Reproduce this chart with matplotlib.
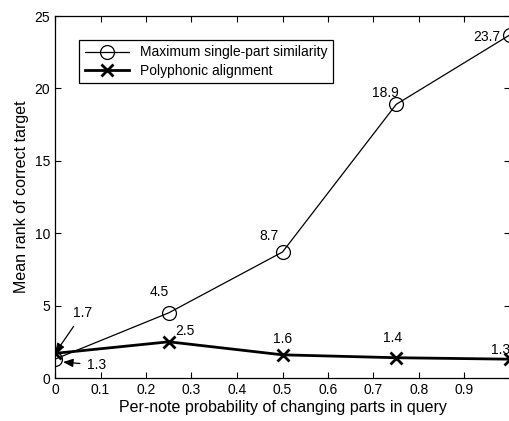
import matplotlib
matplotlib.use('Agg')
import matplotlib.pyplot as plt

plt.rcParams['font.family'] = ['Liberation Sans', 'DejaVu Sans']

prob = [0, 0.25, 0.5, 0.75, 1.0]
max_single = [1.3, 4.5, 8.7, 18.9, 23.7]
polyphonic = [1.7, 2.5, 1.6, 1.4, 1.3]
xticks = [0, 0.1, 0.2, 0.3, 0.4, 0.5, 0.6, 0.7, 0.8, 0.9]
yticks = [0, 5, 10, 15, 20, 25]

fig = plt.figure(figsize=(5.1, 4.21), dpi=100)
ax = fig.add_axes([55 / 510, 43 / 421, 455 / 510, 362 / 421])

ax.plot(prob, max_single, color='black', lw=0.9, marker='o', markersize=10,
        markerfacecolor='none', markeredgewidth=0.9, label='Maximum single-part similarity')
ax.plot(prob, polyphonic, color='black', lw=2, marker='x', markersize=8,
        markeredgewidth=2, label='Polyphonic alignment')

ax.set_xlim(0, 1)
ax.set_ylim(0, 25)
ax.set_xticks(xticks)
ax.set_xticklabels([('%g' % t) for t in xticks])
ax.set_yticks(yticks)
ax.tick_params(direction='in', top=True, right=True, labelsize=10, length=4, width=0.8)
for s in ax.spines.values():
    s.set_linewidth(0.9)

ax.set_xlabel('Per-note probability of changing parts in query', fontsize=11.5, labelpad=2)
ax.set_ylabel('Mean rank of correct target', fontsize=11.5, labelpad=4)

# value labels (offsets in points from each data point)
labels = [
    ('4.5', 0.25, 4.5, -7, 15),
    ('8.7', 0.5, 8.7, -9.5, 11.5),
    ('18.9', 0.75, 18.9, -8, 8),
    ('23.7', 1.0, 23.7, -16.5, -1.5),
    ('2.5', 0.25, 2.5, 12, 8),
    ('1.6', 0.5, 1.6, 0, 11.5),
    ('1.4', 0.75, 1.4, -3, 14),
    ('1.3', 1.0, 1.3, -7, 6.5),
]
for txt, x, y, dx, dy in labels:
    ax.annotate(txt, (x, y), xytext=(dx, dy), textcoords='offset points',
                ha='center', va='center', fontsize=10)

arrow = dict(arrowstyle='-|>,head_length=0.6,head_width=0.25', color='black', lw=0.9,
             shrinkA=3, shrinkB=0)
ax.annotate('1.7', (0, 1.7), xytext=(20, 29), textcoords='offset points', ha='center', va='center',
            fontsize=10, arrowprops=arrow)
ax.annotate('1.3', (0.0176, 1.1), xytext=(24, -2), textcoords='offset points', ha='center', va='center',
            fontsize=10, arrowprops=arrow)

leg = ax.legend(loc='upper left', bbox_to_anchor=(0.053, 0.934), borderaxespad=0, fontsize=10,
                fancybox=False, edgecolor='black', framealpha=1, handlelength=3.2,
                borderpad=0.4, labelspacing=0.3)
leg.get_frame().set_linewidth(0.9)

fig.savefig('out.png', dpi=100)
